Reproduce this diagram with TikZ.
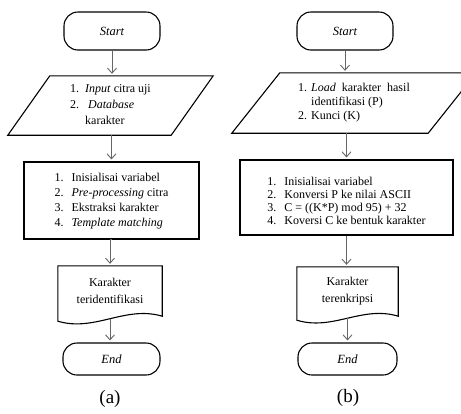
\documentclass[tikz,border=0pt]{standalone}
\usepackage{fontspec}
\setmainfont{Liberation Serif}
\usetikzlibrary{arrows.meta}

\begin{document}
\begin{tikzpicture}[x=1pt,y=-1pt,
  terminal/.style={draw,line width=1.1pt,rectangle,rounded corners=14pt,
    minimum width=96pt,minimum height=38pt,font=\fontsize{12.5}{14}\selectfont\itshape},
  iobox/.style={rectangle,inner sep=0pt,font=\fontsize{12}{16}\selectfont},
  procbox/.style={draw,line width=1.1pt,rectangle,inner sep=0pt},
  docbox/.style={rectangle,inner sep=0pt,align=center,font=\fontsize{12}{17}\selectfont},
  outline/.style={line width=1.1pt},
  arr/.style={draw=black!60,line width=0.9pt,-{Straight Barb[length=5pt,width=9pt]},shorten >=2pt},
  caption/.style={font=\fontsize{19}{22}\selectfont}]
  \useasboundingbox (0,0) rectangle (461,413);

  % (a)
  \node[terminal] (starta) at (112,31) {Start};
  \node[iobox,minimum width=163pt,minimum height=59pt] (inputa) at (110.5,105.5)
    {\begin{tabular}{@{}l@{\hspace{6pt}}l@{}}
      1. & \textit{Input} citra uji \\
      2. & \ \textit{Database} \\
         & karakter
     \end{tabular}};
  \draw[outline] ([shift={(21,0)}]inputa.north west) -- ([shift={(21,0)}]inputa.north east)
    -- ([shift={(-21,0)}]inputa.south east) -- ([shift={(-21,0)}]inputa.south west) -- cycle;
  \node[procbox,minimum width=175pt,minimum height=77pt,font=\fontsize{12}{15}\selectfont] (proca) at (111.5,200.5)
    {\begin{tabular}{@{}l@{\hspace{8pt}}l@{}}
      1. & Inisialisai variabel \\
      2. & \textit{Pre-processing} citra \\
      3. & Ekstraksi karakter \\
      4. & \textit{Template matching}
     \end{tabular}};
  \node[docbox,minimum width=104pt,minimum height=50pt] (outa) at (110,291)
    {Karakter\\teridentifikasi};
  \draw[outline] (outa.north west) -- (outa.north east) -- (outa.south east)
    .. controls +(-37,-11) and +(37,11) .. ([shift={(0,5)}]outa.south west)
    coordinate[pos=0.5] (wavea) -- cycle;
  \node[terminal,minimum width=97pt,minimum height=32pt] (enda) at (111.5,359) {End};
  \node[caption] (capa) at (110,399) {(a)};

  \draw[arr] (starta.south) -- (starta.south |- inputa.north);
  \draw[arr] (proca.north |- inputa.south) -- (proca.north);
  \draw[arr] (proca.south) -- (proca.south -| outa.north) -- (outa.north);
  \draw[arr] (wavea) -- (wavea |- enda.north);

  % (b)
  \node[terminal] (startb) at (345,31) {Start};
  \node[iobox,minimum width=196pt,minimum height=60pt,font=\fontsize{12}{14}\selectfont] (inputb) at (354,103)
    {\begin{tabular}{@{}l@{\hspace{4pt}}l@{}}
      1. & \textit{Load}\ \ karakter\ \ hasil \\
         & identifikasi (P) \\
      \multicolumn{2}{@{}l@{}}{2. Kunci (K)}
     \end{tabular}};
  \draw[outline] ([shift={(24,0)}]inputb.north west) -- ([shift={(24,0)}]inputb.north east)
    -- ([shift={(-24,0)}]inputb.south east) -- ([shift={(-24,0)}]inputb.south west) -- cycle;
  \node[procbox,minimum width=213pt,minimum height=75pt,font=\fontsize{12}{12.8}\selectfont] (procb) at (346.5,197.5)
    {\begin{tabular}{@{}l@{\hspace{8pt}}l@{}}
      \rule{0pt}{19pt}1. & Inisialisai variabel \\
      2. & Konversi P ke nilai ASCII \\
      3. & C = ((K*P) mod 95) + 32 \\
      4. & Koversi C ke bentuk karakter
     \end{tabular}};
  \node[docbox,minimum width=101pt,minimum height=49pt] (outb) at (347.5,291.5)
    {Karakter\\terenkripsi};
  \draw[outline] (outb.north west) -- (outb.north east) -- (outb.south east)
    .. controls +(-36,-11) and +(36,11) .. ([shift={(0,4)}]outb.south west)
    coordinate[pos=0.5] (waveb) -- cycle;
  \node[terminal,minimum width=99pt,minimum height=32pt] (endb) at (347.5,359) {End};
  \node[caption] (capb) at (348,398) {(b)};

  \draw[arr] (startb.south) -- (startb.south |- inputb.north);
  \draw[arr] (procb.north |- inputb.south) -- (procb.north);
  \draw[arr] (procb.south) -- (procb.south |- outb.north);
  \draw[arr] (waveb) -- (waveb |- endb.north);
\end{tikzpicture}
\end{document}
